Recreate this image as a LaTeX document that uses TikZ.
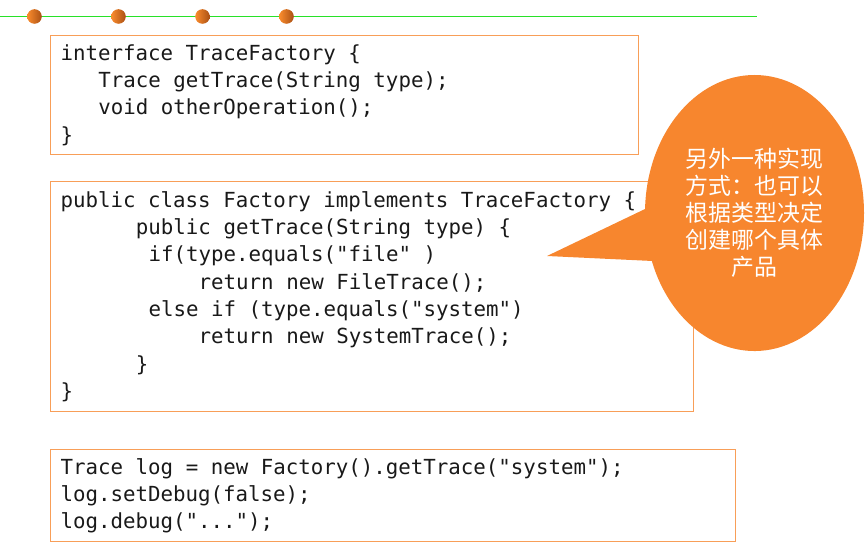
\documentclass[tikz,border=0pt]{standalone}
\usepackage{fontspec}
\setmonofont{DejaVu Sans Mono}
\newfontfamily\cjk{Noto Sans CJK SC}
\usetikzlibrary{shapes.callouts}
\definecolor{cadre}{RGB}{248,158,88}
\definecolor{bulle}{RGB}{247,134,46}
\definecolor{ligne}{RGB}{40,225,40}
\definecolor{puceclair}{RGB}{250,140,45}
\definecolor{pucefonce}{RGB}{170,80,20}
\newlength\cw \setlength\cw{12.55bp}
\newcommand\ind[1]{\hspace*{#1\cw}}

\begin{document}
\begin{tikzpicture}[x=1bp,y=-1bp,
                  codebox/.style={draw=cadre,line width=1.3bp,anchor=north west,inner xsep=10bp,inner ysep=0pt,
                                  align=left,text=black!90,font=\ttfamily\fontsize{20.85}{27.4}\selectfont,
                                  execute at begin node={\spaceskip=\cw\xspaceskip=\cw}},
                  puce/.style={circle,inner sep=0pt,minimum size=14.6bp,left color=puceclair,right color=pucefonce}]
                  \useasboundingbox (0,0) rectangle (865,559);
                  \draw[ligne,line width=1.7bp] (0,16.5) -- (757,16.5);
                  \foreach \i in {0,...,3}
                      \node[puce] (p\i) at (34.5+84*\i,16.5) {};
                  \node[codebox,text width=568bp,minimum height=119bp] (iface) at (50,35)
                      {interface TraceFactory \{\\
                       \ind{3}Trace getTrace(String type);\\
                       \ind{3}void otherOperation();\\
                       \}};
                  \node[codebox,text width=623bp,minimum height=230bp] (fact) at (50,181)
                      {public class Factory implements TraceFactory \{\\
                       \ind{6}public getTrace(String type) \{\\
                       \ind{7}if(type.equals("file" )\\
                       \ind{11}return new FileTrace();\\
                       \ind{7}else if (type.equals("system")\\
                       \ind{11}return new SystemTrace();\\
                       \ind{6}\}\\
                       \}};
                  \node[codebox,text width=665bp,minimum height=92bp] (usage) at (50,449)
                      {Trace log = new Factory().getTrace("system");\\
                       log.setDebug(false);\\
                       log.debug("...");};
                  \coordinate (tip) at (547,256);
                  \node[ellipse callout,fill=bulle,inner sep=0pt,minimum width=219bp,minimum height=276bp,
                        callout absolute pointer={(tip)},callout pointer arc=22,
                        text=white,align=center,font=\cjk\fontsize{23}{27}\selectfont] (note) at (754.5,213)
                      {另外一种实现\\方式：也可以\\根据类型决定\\创建哪个具体\\产品}; % bulle sur le code
              \end{tikzpicture}
\end{document}
